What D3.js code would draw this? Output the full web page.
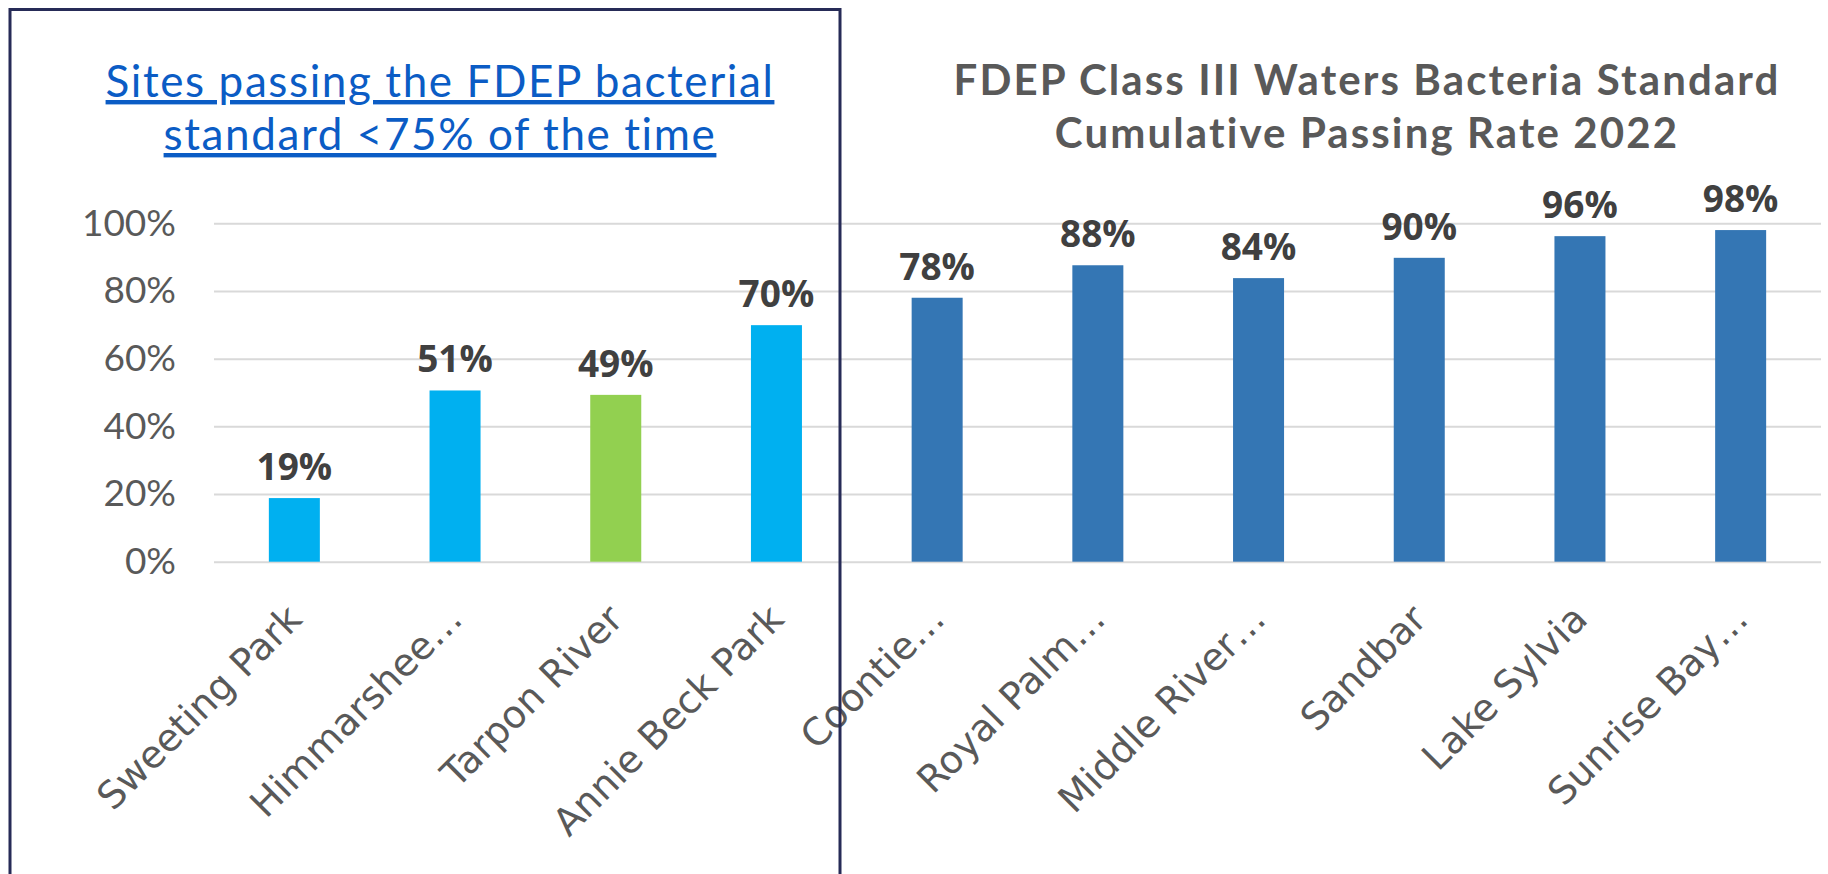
<!DOCTYPE html>
<html>
<head>
<meta charset="utf-8">
<script src="https://cdn.jsdelivr.net/npm/d3@7"></script>
<style>
  html, body { margin: 0; padding: 0; background: #ffffff; }
  svg { display: block; }
</style>
</head>
<body>
<svg id="chart" width="1828" height="874"></svg>
<script>
// ---- Data ----
const categories = ["Sweeting Park", "Himmarshee…", "Tarpon River", "Annie Beck Park", "Coontie…",
                    "Royal Palm…", "Middle River…", "Sandbar", "Lake Sylvia", "Sunrise Bay…"];
const passingRate = [18.8, 50.6, 49.3, 69.9, 78.0, 87.6, 83.8, 89.8, 96.2, 98.0];
const barGroup = ["low", "low", "green", "low", "high", "high", "high", "high", "high", "high"];
const yTicks = [0, 20, 40, 60, 80, 100];
const leftTitle = ["Sites passing the FDEP bacterial", "standard <75% of the time"];
const rightTitle = ["FDEP Class III Waters Bacteria Standard", "Cumulative Passing Rate 2022"];

// ---- Layout ----
const W = 1828, H = 874;
const plot = { left: 214, right: 1821, top: 223.3, bottom: 561.7 };
const colors = { low: "#00b0f0", green: "#92d050", high: "#3476b4" };

const svg = d3.select("#chart");

const x = d3.scaleBand()
  .domain(categories)
  .range([plot.left, plot.right])
  .paddingInner(0.6826)
  .paddingOuter(0.3413);

const y = d3.scaleLinear().domain([0, 100]).range([plot.bottom, plot.top]);

// gridlines + tick labels via axis
const yAxis = d3.axisLeft(y)
  .tickValues(yTicks)
  .tickSize(-(plot.right - plot.left))
  .tickPadding(38)
  .tickFormat(d => d + "%");

const gy = svg.append("g")
  .attr("transform", `translate(${plot.left},0)`)
  .call(yAxis);
gy.select(".domain").remove();
gy.selectAll(".tick line").attr("stroke", "#d9d9d9").attr("stroke-width", 2);
gy.selectAll(".tick text")
  .attr("fill", "#595959")
  .style("font-family", "Lato, 'Open Sans', sans-serif")
  .style("font-size", "37px");

// bars
const data = categories.map((c, i) => ({ c, v: passingRate[i], g: barGroup[i] }));

svg.append("g").selectAll("rect")
  .data(data)
  .join("rect")
  .attr("x", d => x(d.c))
  .attr("width", x.bandwidth())
  .attr("y", d => y(d.v))
  .attr("height", d => y(0) - y(d.v))
  .attr("fill", d => colors[d.g]);

// data labels
const fmt = d3.format(".0%");
svg.append("g").selectAll("text")
  .data(data)
  .join("text")
  .attr("x", d => x(d.c) + x.bandwidth() / 2)
  .attr("y", d => y(d.v) - 18)
  .attr("text-anchor", "middle")
  .attr("fill", "#404040")
  .style("font-family", "'Open Sans', Lato, sans-serif")
  .style("font-weight", "bold")
  .style("font-size", "37px")
  .text(d => fmt(d.v / 100));

// category labels, rotated -45
const xAxis = d3.axisBottom(x).tickSize(0).tickPadding(0);
const gx = svg.append("g")
  .attr("transform", `translate(0,${plot.bottom})`)
  .call(xAxis);
gx.select(".domain").remove();
gx.selectAll(".tick text")
  .attr("y", 0)
  .attr("dy", "0.35em")
  .attr("transform", "translate(0,50) rotate(-45)")
  .attr("text-anchor", "end")
  .attr("fill", "#595959")
  .style("font-family", "'DejaVu Sans', sans-serif")
  .style("font-size", "38px");

// left title (hyperlink style)
const lt = svg.append("g");
const ltBase = [97, 150];
leftTitle.forEach((t, i) => {
  lt.append("text")
    .attr("x", 440)
    .attr("y", ltBase[i])
    .attr("text-anchor", "middle")
    .attr("fill", "#0b5cc5")
    .style("font-family", "Lato, sans-serif")
    .style("font-size", "44px")
    .style("letter-spacing", "1.6px")
    .style("text-decoration", "underline")
    .text(t);
});

// right title
rightTitle.forEach((t, i) => {
  svg.append("text")
    .attr("x", 1367)
    .attr("y", [95, 148][i])
    .attr("text-anchor", "middle")
    .attr("fill", "#595959")
    .style("font-family", "Lato, sans-serif")
    .style("font-weight", "bold")
    .style("font-size", "42px")
    .style("letter-spacing", "2.1px")
    .text(t);
});

// outline box around the low-passing sites
svg.append("rect")
  .attr("x", 10)
  .attr("y", 9.5)
  .attr("width", 830)
  .attr("height", 900)
  .attr("fill", "none")
  .attr("stroke", "#262b57")
  .attr("stroke-width", 3);
</script>
</body>
</html>
